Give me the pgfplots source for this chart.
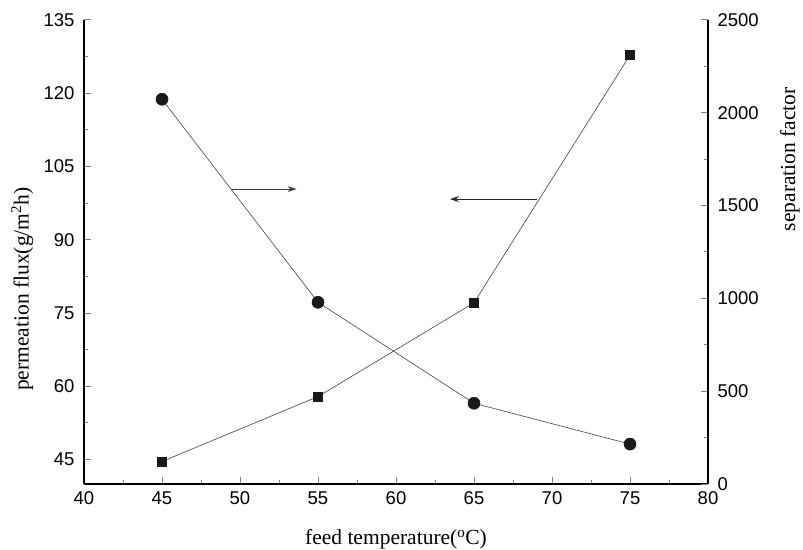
\documentclass[border=0pt]{standalone}
\usepackage{fontspec}
\setmainfont{Liberation Serif}
\newfontfamily\ticksans{Liberation Sans}
\usepackage{pgfplots}
\pgfplotsset{compat=1.18}
\usetikzlibrary{arrows.meta}
\pgfplotsset{
  common/.style={
    at={(84pt,65pt)}, anchor=south west,
    scale only axis, width=624pt, height=464pt,
    xmin=40, xmax=80,
    axis line style={line width=1.2pt},
    major tick style={line width=1pt},
    minor tick style={line width=1pt},
    major tick length=7pt, minor tick length=4pt,
    tick align=inside,
    minor tick num=1,
    ticklabel style={font=\ticksans\fontsize{18.5}{18.5}\selectfont},
    /pgf/number format/assume math mode=true,
    /pgf/number format/1000 sep={},
    label style={font=\fontsize{21.5}{21.5}\selectfont},
  }
}
\begin{document}
\begin{tikzpicture}
\useasboundingbox (0pt,0pt) rectangle (803pt,549pt);
\begin{axis}[common,
  ymin=40, ymax=135,
  ytick={45,60,75,90,105,120,135},
  xtick={40,45,...,80},
  axis y line*=left, axis x line*=bottom,
  yticklabel style={xshift=-6pt},
  xticklabel style={yshift=-4pt},
  xlabel={feed temperature(\textsuperscript{o}C)},
  ylabel={permeation flux(g/m\textsuperscript{2}h)},
  x label style={at={(axis description cs:0.5,-0.12)},anchor=center},
  y label style={at={(axis description cs:-0.099,0.42)},anchor=center,rotate=0},
]
\addplot[color=black!75, line width=0.6pt, mark=square*, mark size=4.5pt,
  mark options={fill=black!90, draw=black!90, solid}]
  coordinates {(45,44.6) (55,57.9) (65,77.1) (75,127.8)};
\end{axis}
\begin{axis}[common,
  ymin=0, ymax=2500,
  ytick={0,500,...,2500},
  axis y line*=right, axis x line=none,
  yticklabel style={xshift=6pt},
  ylabel={separation factor},
  y label style={at={(axis description cs:1.131,0.70)},anchor=center,rotate=0},
]
\addplot[color=black!75, line width=0.6pt, mark=*, mark size=6pt,
  mark options={fill=black!90, draw=black!90, solid}]
  coordinates {(45,2073) (55,979) (65,435) (75,215)};
\draw[black!75, line width=1pt, -{Stealth[length=9pt,width=6pt]}] (axis cs:49.42,1589) -- (axis cs:53.63,1589);
\draw[black!85, line width=1pt, -{Stealth[length=9pt,width=6pt]}] (axis cs:69.04,1535) -- (axis cs:63.46,1535);
\end{axis}
\end{tikzpicture}
\end{document}
